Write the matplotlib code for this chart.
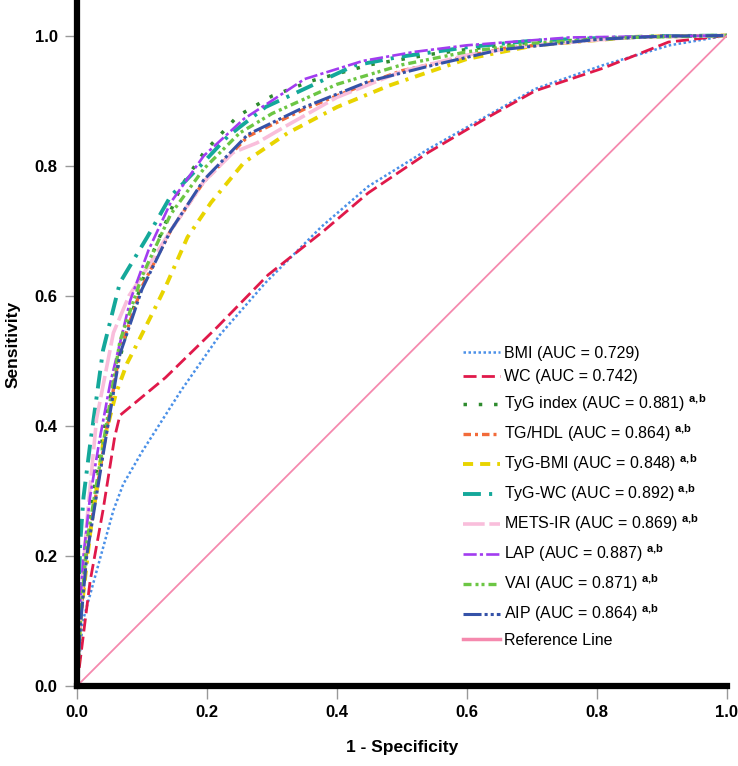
import matplotlib
matplotlib.use('Agg')
import matplotlib.pyplot as plt

plt.rcParams['font.family'] = ['Liberation Sans', 'DejaVu Sans']
plt.rcParams['mathtext.fontset'] = 'custom'
plt.rcParams['mathtext.rm'] = 'Liberation Sans'
plt.rcParams['mathtext.bf'] = 'Liberation Sans:bold'

# ROC curves: (1 - specificity, sensitivity)
bmi_fpr = [0, 0.009, 0.03, 0.056, 0.071, 0.10, 0.16, 0.22, 0.29, 0.376, 0.448, 0.54, 0.623, 0.705, 0.808, 0.912, 1.0]
bmi_tpr = [0, 0.10, 0.176, 0.27, 0.31, 0.36, 0.454, 0.54, 0.62, 0.706, 0.768, 0.825, 0.872, 0.918, 0.954, 0.985, 1.0]

wc_fpr = [0, 0.005, 0.02, 0.04, 0.058, 0.066, 0.136, 0.216, 0.294, 0.38, 0.448, 0.54, 0.628, 0.705, 0.81, 0.91, 1.0]
wc_tpr = [0, 0.04, 0.16, 0.27, 0.383, 0.416, 0.474, 0.552, 0.632, 0.70, 0.758, 0.82, 0.872, 0.915, 0.95, 0.99, 1.0]

tyg_fpr = [0, 0.005, 0.015, 0.03, 0.05, 0.08, 0.11, 0.16, 0.195, 0.247, 0.30, 0.36, 0.45, 0.55, 0.65, 0.8, 0.9, 1]
tyg_tpr = [0, 0.12, 0.22, 0.33, 0.44, 0.56, 0.65, 0.768, 0.82, 0.876, 0.907, 0.93, 0.955, 0.972, 0.985, 0.995, 0.999, 1]

tghdl_fpr = [0, 0.005, 0.015, 0.04, 0.066, 0.10, 0.144, 0.195, 0.263, 0.35, 0.453, 0.5, 0.654, 0.81, 0.9, 1]
tghdl_tpr = [0, 0.10, 0.207, 0.36, 0.516, 0.614, 0.70, 0.775, 0.845, 0.887, 0.929, 0.946, 0.98, 0.995, 0.999, 1]

tygbmi_fpr = [0, 0.005, 0.02, 0.04, 0.06, 0.077, 0.093, 0.124, 0.139, 0.17, 0.206, 0.257, 0.324, 0.40, 0.48, 0.6, 0.705, 0.86, 1]
tygbmi_tpr = [0, 0.10, 0.233, 0.372, 0.45, 0.496, 0.527, 0.589, 0.62, 0.69, 0.743, 0.805, 0.85, 0.89, 0.923, 0.964, 0.985, 0.998, 1]

tygwc_fpr = [0, 0.002, 0.005, 0.01, 0.02, 0.04, 0.066, 0.108, 0.144, 0.19, 0.232, 0.29, 0.35, 0.427, 0.495, 0.6, 0.7, 0.8, 0.9, 1.0]
tygwc_tpr = [0, 0.12, 0.22, 0.29, 0.37, 0.516, 0.62, 0.69, 0.753, 0.80, 0.845, 0.89, 0.918, 0.954, 0.967, 0.982, 0.992, 0.996, 0.999, 1.0]

mets_fpr = [0, 0.005, 0.015, 0.03, 0.056, 0.08, 0.10, 0.144, 0.195, 0.24, 0.277, 0.32, 0.4, 0.5, 0.6, 0.7, 0.85, 1]
mets_tpr = [0, 0.12, 0.25, 0.41, 0.543, 0.60, 0.63, 0.70, 0.775, 0.82, 0.835, 0.86, 0.905, 0.945, 0.97, 0.985, 0.997, 1]

lap_fpr = [0, 0.003, 0.01, 0.02, 0.035, 0.051, 0.082, 0.11, 0.144, 0.195, 0.257, 0.30, 0.35, 0.44, 0.52, 0.60, 0.757, 0.9, 1.0]
lap_tpr = [0, 0.10, 0.20, 0.29, 0.38, 0.465, 0.593, 0.67, 0.743, 0.815, 0.872, 0.90, 0.933, 0.961, 0.975, 0.985, 0.997, 0.999, 1.0]

vai_fpr = [0, 0.005, 0.015, 0.04, 0.066, 0.10, 0.144, 0.195, 0.25, 0.30, 0.40, 0.50, 0.6, 0.7, 0.85, 1]
vai_tpr = [0, 0.10, 0.22, 0.37, 0.53, 0.63, 0.725, 0.795, 0.85, 0.88, 0.925, 0.955, 0.975, 0.988, 0.997, 1]

aip_fpr = [0, 0.005, 0.015, 0.04, 0.066, 0.10, 0.144, 0.195, 0.263, 0.35, 0.45, 0.55, 0.65, 0.8, 0.9, 1]
aip_tpr = [0, 0.09, 0.20, 0.355, 0.51, 0.61, 0.70, 0.778, 0.848, 0.89, 0.93, 0.955, 0.978, 0.994, 0.999, 1]

ref_x = [0, 1]
ref_y = [0, 1]

names = ['BMI', 'WC', 'TyG index', 'TG/HDL', 'TyG-BMI', 'TyG-WC', 'METS-IR', 'LAP', 'VAI', 'AIP']
aucs = ['0.729', '0.742', '0.881', '0.864', '0.848', '0.892', '0.869', '0.887', '0.871', '0.864']
sig = [False, False, True, True, True, True, True, True, True, True]

curves = [(bmi_fpr, bmi_tpr), (wc_fpr, wc_tpr), (tyg_fpr, tyg_tpr), (tghdl_fpr, tghdl_tpr),
          (tygbmi_fpr, tygbmi_tpr), (tygwc_fpr, tygwc_tpr), (mets_fpr, mets_tpr),
          (lap_fpr, lap_tpr), (vai_fpr, vai_tpr), (aip_fpr, aip_tpr)]

colors = ['#4a90e8', '#e0194a', '#2e8b2e', '#f26b3a', '#e8d400', '#14a89a',
          '#f9bedb', '#a23cf0', '#6cc644', '#3552a8']
styles = [(0, (1.0, 1.0)), (0, (4.7, 1.9)), (0, (1.0, 3.4)), (0, (2.25, 1.2, 0.9, 1.2)),
          (0, (2.6, 1.8, 2.6, 1.8, 0.8, 1.8)), (0, (4.6, 2.1, 0.8, 2.1)), (0, (6, 1.3)),
          (0, (5, 1.2, 1.2, 1.2)), (0, (2.4, 1.2, 0.9, 0.9, 0.9, 1.2)), (0, (5.9, 1, 1, 1, 1, 1))]
widths = [1.8, 2.0, 2.5, 2.4, 2.8, 2.8, 2.6, 1.9, 2.4, 2.2]

fig = plt.figure(figsize=(7.38, 7.66), dpi=100)
ax = fig.add_axes([77 / 738, 80 / 766, 650 / 738, 683 / 766])

for i in range(len(names)):
    lab = names[i] + ' (AUC = ' + aucs[i] + ')'
    if sig[i]:
        lab += r' $^{\mathbf{a{,}b}}$'
    ax.plot(curves[i][0], curves[i][1], color=colors[i], linestyle=styles[i],
            linewidth=widths[i], label=lab)
ax.plot(ref_x, ref_y, color='#f589ae', linewidth=1.3, label='Reference Line')

ax.set_xlim(0, 1)
ax.set_ylim(0, 1.05)
ax.set_xticks([0, 0.2, 0.4, 0.6, 0.8, 1.0])
ax.set_yticks([0, 0.2, 0.4, 0.6, 0.8, 1.0])
ax.set_xticklabels(['0.0', '0.2', '0.4', '0.6', '0.8', '1.0'])
ax.set_yticklabels(['0.0', '0.2', '0.4', '0.6', '0.8', '1.0'])
for lbl in ax.get_xticklabels() + ax.get_yticklabels():
    lbl.set_fontweight('bold')
    lbl.set_fontsize(12)
ax.tick_params(direction='out', length=9, width=1, color='#999999', pad=5)

ax.spines['top'].set_visible(False)
ax.spines['right'].set_visible(False)
ax.spines['left'].set_linewidth(4.5)
ax.spines['bottom'].set_linewidth(4.5)

ax.set_xlabel('1 - Specificity', fontsize=12.5, fontweight='bold', labelpad=14)
ax.set_ylabel('Sensitivity', fontsize=12.5, fontweight='bold', labelpad=10)

leg = ax.legend(loc='upper left', bbox_to_anchor=(463 / 738, 1 - 346 / 766),
                bbox_transform=fig.transFigure, frameon=False, fontsize=11.5,
                handlelength=2.3, handletextpad=0.25, labelspacing=0.52, borderpad=0,
                borderaxespad=0)
leg.get_lines()[-1].set_linewidth(2.5)

fig.savefig('out.png', dpi=100)
